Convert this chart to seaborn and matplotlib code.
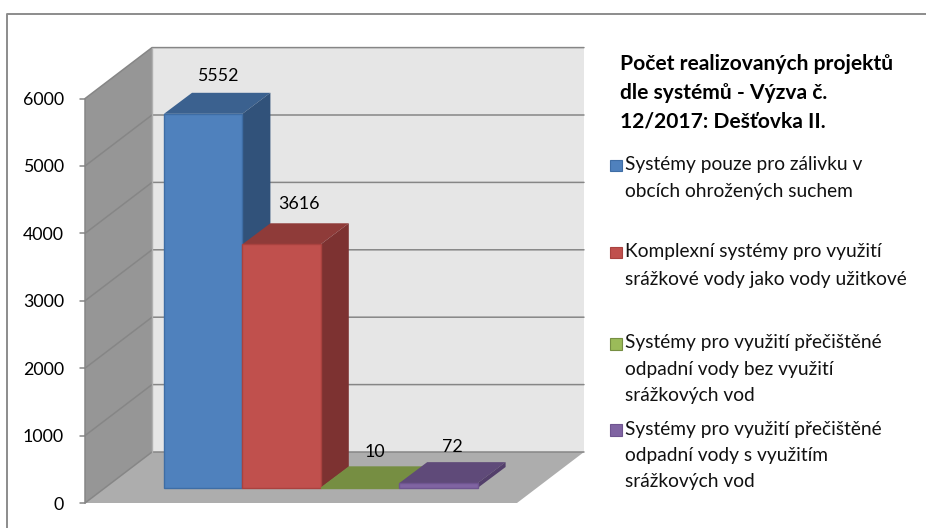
import matplotlib
matplotlib.use('Agg')
import matplotlib.pyplot as plt
from matplotlib.patches import Polygon, Rectangle
import seaborn as sns

# data
systems = ['Systémy pouze pro zálivku v\nobcích ohrožených suchem',
           'Komplexní systémy pro využití\nsrážkové vody jako vody užitkové',
           'Systémy pro využití přečištěné\nodpadní vody bez využití\nsrážkových vod',
           'Systémy pro využití přečištěné\nodpadní vody s využitím\nsrážkových vod']
counts = [5552, 3616, 10, 72]
y_ticks = [0, 1000, 2000, 3000, 4000, 5000, 6000]
title = 'Počet realizovaných projektů\ndle systémů - Výzva č.\n12/2017: Dešťovka II.'

# colours: front, top, side
front_cols = ['#4F81BD', '#C0504D', '#9BBB59', '#8064A2']
top_cols = ['#3B618F', '#8F3B39', '#768E42', '#5F4A79']
side_cols = ['#31527A', '#7D3231', '#657A39', '#533F6B']
edge_cols = ['#3E6DA5', '#A9423F', '#768E42', '#6F5590']

sns.set_theme(style='white')
plt.rcParams['font.family'] = ['Lato', 'DejaVu Sans']

fig = plt.figure(figsize=(9.26, 5.28), dpi=100)
ax = fig.add_axes([0, 0, 1, 1])

# scales: one category = 78.4 px, 1000 units = 67.4 px
px_x = 78.4
px_y = 0.0674
x0 = 203.2
y0 = 488

def X(p):
    return (p - x0) / px_x

def Y(p):
    return (y0 - p) / px_y

def poly(pts, col, z, edge='none'):
    ax.add_patch(Polygon([(X(a), Y(b)) for a, b in pts], closed=True, fc=col, ec=edge, lw=0.8, zorder=z))

sns.barplot(x=list(range(4)), y=counts, hue=list(range(4)), palette=front_cols, width=1.0,
            legend=False, ax=ax, saturation=1, zorder=5, linewidth=1)
for b, e in zip(ax.patches, edge_cols):
    b.set_edgecolor(e)

ax.set_xlim(X(0), X(926))
ax.set_ylim(Y(528), Y(0))
ax.axis('off')

# frame
ax.plot([X(7), X(7), X(926)], [Y(528), Y(14), Y(14)], color='#8C8C8C', lw=1.4, zorder=0)

# walls of the 3d box
fx0, fx1, fy0 = 85, 517, 503
bx0, bx1, by0 = 152, 584, 452
top = 6000 * px_y
poly([(bx0, by0), (bx1, by0), (bx1, by0 - top), (bx0, by0 - top)], '#E6E6E6', 1)
poly([(fx0, fy0), (bx0, by0), (bx0, by0 - top), (fx0, fy0 - top)], '#969696', 1)
poly([(fx0, fy0), (fx1, fy0), (bx1, by0), (bx0, by0)], '#ADADAD', 1)

# grid lines and ticks
for v in y_ticks:
    h = v * px_y
    ax.plot([X(fx0), X(bx0), X(bx1)], [Y(fy0 - h), Y(by0 - h), Y(by0 - h)], color='#868686', lw=1.1, zorder=2)
    ax.plot([X(fx0 - 5), X(fx0)], [Y(fy0 - h), Y(fy0 - h)], color='#868686', lw=1.1, zorder=2)
    ax.text(X(64), Y(fy0 - h + 1.5), str(v), ha='right', va='center', fontsize=12.8, color='black', zorder=8)
ax.plot([X(fx0), X(fx0)], [Y(fy0), Y(fy0 - top)], color='#868686', lw=1.1, zorder=2)
ax.plot([X(bx0), X(bx0)], [Y(by0), Y(by0 - top)], color='#B0B0B0', lw=1, zorder=2)

# depth faces of the bars
dx, dy = 28, 21
half = 0.5
for i, v in enumerate(counts):
    xl = i - half
    xr = i + half
    ddx = dx / px_x
    ddy = dy / px_y
    ax.add_patch(Polygon([(xl, v), (xr, v), (xr + ddx, v + ddy), (xl + ddx, v + ddy)], fc=top_cols[i], ec='none', zorder=4))
    ax.add_patch(Polygon([(xr, 0), (xr, v), (xr + ddx, v + ddy), (xr + ddx, ddy)], fc=side_cols[i], ec='none', zorder=4))

# value labels
label_nudge = [(15, 38), (17.5, 40), (15, 35), (13.5, 36)]
for i, v in enumerate(counts):
    ax.annotate(str(v), (i, v), xytext=label_nudge[i], textcoords='offset pixels',
                ha='center', va='center', fontsize=12.8, color='black', zorder=8)

# title and legend
ax.text(X(620), Y(64), title.split('\n')[0], fontsize=15.1, fontweight='bold', va='center', color='black', zorder=8)
ax.text(X(620), Y(93), title.split('\n')[1], fontsize=15.1, fontweight='bold', va='center', color='black', zorder=8)
ax.text(X(620), Y(122), title.split('\n')[2], fontsize=15.1, fontweight='bold', va='center', color='black', zorder=8)

legend_y = [(165, 192), (252, 279), (343, 369, 395), (429, 455, 481)]
for i, s in enumerate(systems):
    ys = legend_y[i]
    ax.add_patch(Rectangle((X(610), Y(ys[0] + 6.5)), 11.5 / px_x, 11.5 / px_y, fc=front_cols[i], ec=edge_cols[i], lw=0.8, zorder=8))
    for line, yy in zip(s.split('\n'), ys):
        ax.text(X(625), Y(yy), line, fontsize=13.8, va='center', color='#111111', zorder=8)

fig.savefig('out.png', dpi=100)
